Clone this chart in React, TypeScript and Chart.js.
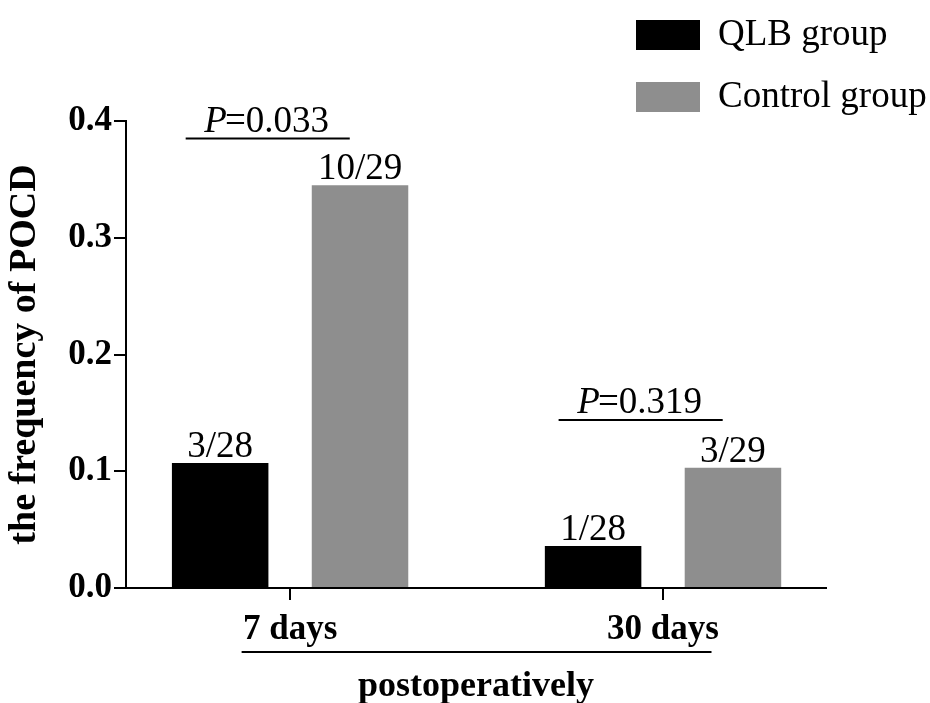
import React, { useEffect, useRef } from "react";
import { Chart, registerables } from "chart.js";

Chart.register(...registerables);

const categories = ["7 days", "30 days"];
const categoryPositions = [1, 2];
const seriesNames = ["QLB group", "Control group"];
const seriesColors = ["#000000", "#8e8e8e"];
const qlbValues = [0.107, 0.036];
const controlValues = [0.345, 0.103];
const qlbCounts = ["3/28", "1/28"];
const controlCounts = ["10/29", "3/29"];
const pValues = ["0.033", "0.319"];
const pBracketLevels = [0.385, 0.144];
const yTickValues = [0, 0.1, 0.2, 0.3, 0.4];
const xAxisTitle = "postoperatively";
const yAxisTitle = "the frequency of POCD";

const SERIF = "'Liberation Serif', 'Times New Roman', serif";
const REG = 37;
const BOLD = 35;

const annotate = {
  id: "annotate",
  afterDraw(chart: any) {
    const ctx = chart.ctx as CanvasRenderingContext2D;
    const xs = chart.scales.x;
    const ys = chart.scales.y;
    ctx.save();
    ctx.fillStyle = "#000";
    ctx.strokeStyle = "#000";

    // count labels above bars
    const countSets = [qlbCounts, controlCounts];
    ctx.font = `${REG}px ${SERIF}`;
    ctx.textAlign = "center";
    ctx.textBaseline = "alphabetic";
    countSets.forEach((labels, di) => {
      const meta = chart.getDatasetMeta(di);
      meta.data.forEach((bar: any, i: number) => {
        ctx.fillText(labels[i], bar.x, bar.y - 6);
      });
    });

    // P-value brackets
    pValues.forEach((p, i) => {
      const x1 = xs.getPixelForValue(categoryPositions[i] - 0.28);
      const x2 = xs.getPixelForValue(categoryPositions[i] + 0.16);
      const y = ys.getPixelForValue(pBracketLevels[i]);
      ctx.lineWidth = 2;
      ctx.beginPath();
      ctx.moveTo(x1, y);
      ctx.lineTo(x2, y);
      ctx.stroke();
      const italic = `italic ${REG}px ${SERIF}`;
      const reg = `${REG}px ${SERIF}`;
      ctx.font = italic;
      const wP = ctx.measureText("P").width;
      ctx.font = reg;
      const wR = ctx.measureText("=" + p).width;
      const start = (x1 + x2) / 2 - (wP + wR) / 2;
      ctx.textAlign = "left";
      ctx.textBaseline = "alphabetic";
      ctx.font = italic;
      ctx.fillText("P", start, y - 7);
      ctx.font = reg;
      ctx.fillText("=" + p, start + wP - 2, y - 7);
    });

    // underline below category labels
    const u1 = xs.getPixelForValue(0.87);
    const u2 = xs.getPixelForValue(2.13);
    const uy = xs.top + 64;
    ctx.lineWidth = 2;
    ctx.beginPath();
    ctx.moveTo(u1, uy);
    ctx.lineTo(u2, uy);
    ctx.stroke();

    // legend
    ctx.font = `${REG}px ${SERIF}`;
    ctx.textAlign = "left";
    ctx.textBaseline = "middle";
    seriesNames.forEach((name, i) => {
      const top = 20 + i * 62;
      ctx.fillStyle = seriesColors[i];
      ctx.fillRect(636, top, 64, 30);
      ctx.fillStyle = "#000";
      ctx.fillText(name, 718, top + 15);
    });
    ctx.restore();
  },
};

export default function App() {
  const canvasRef = useRef<HTMLCanvasElement | null>(null);

  useEffect(() => {
    const canvas = canvasRef.current;
    if (!canvas) return;
    const chart = new Chart(canvas, {
      type: "bar",
      data: {
        datasets: [
          {
            label: seriesNames[0],
            data: categoryPositions.map((x, i) => ({ x, y: qlbValues[i] })),
            backgroundColor: seriesColors[0],
          },
          {
            label: seriesNames[1],
            data: categoryPositions.map((x, i) => ({ x, y: controlValues[i] })),
            backgroundColor: seriesColors[1],
          },
        ],
      },
      options: {
        responsive: false,
        animation: false,
        events: [],
        categoryPercentage: 0.75,
        barPercentage: 0.69,
        layout: { padding: { top: 121, right: 104, left: 0, bottom: 0 } },
        plugins: {
          legend: { display: false },
          tooltip: { enabled: false },
        },
        scales: {
          x: {
            type: "linear",
            offset: false,
            min: 0.56,
            max: 2.437,
            afterBuildTicks: (scale: any) => {
              scale.ticks = categoryPositions.map((v) => ({ value: v }));
            },
            afterFit: (scale: any) => {
              scale.height = 115;
            },
            ticks: {
              callback: (v: any) => categories[categoryPositions.indexOf(Number(v))] ?? "",
              color: "#000",
              font: { family: SERIF, size: BOLD, weight: "bold" },
              padding: 9,
              maxRotation: 0,
              autoSkip: false,
            },
            grid: {
              display: true,
              offset: false,
              drawOnChartArea: false,
              drawTicks: true,
              tickLength: 12,
              color: "#000",
              lineWidth: 2,
            },
            border: { display: true, color: "#000", width: 2 },
            title: {
              display: true,
              text: xAxisTitle,
              color: "#000",
              font: { family: SERIF, size: 36, weight: "bold" },
              padding: { top: 0, bottom: -5 },
            },
          },
          y: {
            type: "linear",
            min: 0,
            max: 0.4,
            afterBuildTicks: (scale: any) => {
              scale.ticks = yTickValues.map((v) => ({ value: v }));
            },
            afterFit: (scale: any) => {
              scale.width = 126;
            },
            ticks: {
              callback: (v: any) => Number(v).toFixed(1),
              color: "#000",
              font: { family: SERIF, size: BOLD, weight: "bold" },
              padding: 2,
            },
            grid: {
              display: true,
              drawOnChartArea: false,
              drawTicks: true,
              tickLength: 12,
              color: "#000",
              lineWidth: 2,
            },
            border: { display: true, color: "#000", width: 2 },
            title: {
              display: true,
              text: yAxisTitle,
              color: "#000",
              font: { family: SERIF, size: 38, weight: "bold" },
              padding: { top: 2, bottom: 0 },
            },
          },
        },
      },
      plugins: [annotate],
    } as any);
    return () => chart.destroy();
  }, []);

  return (
    <div style={{ position: "absolute", left: 0, top: 0, width: 930, height: 703, background: "#fff" }}>
      <canvas ref={canvasRef} width={930} height={703} style={{ display: "block" }} />
    </div>
  );
}
